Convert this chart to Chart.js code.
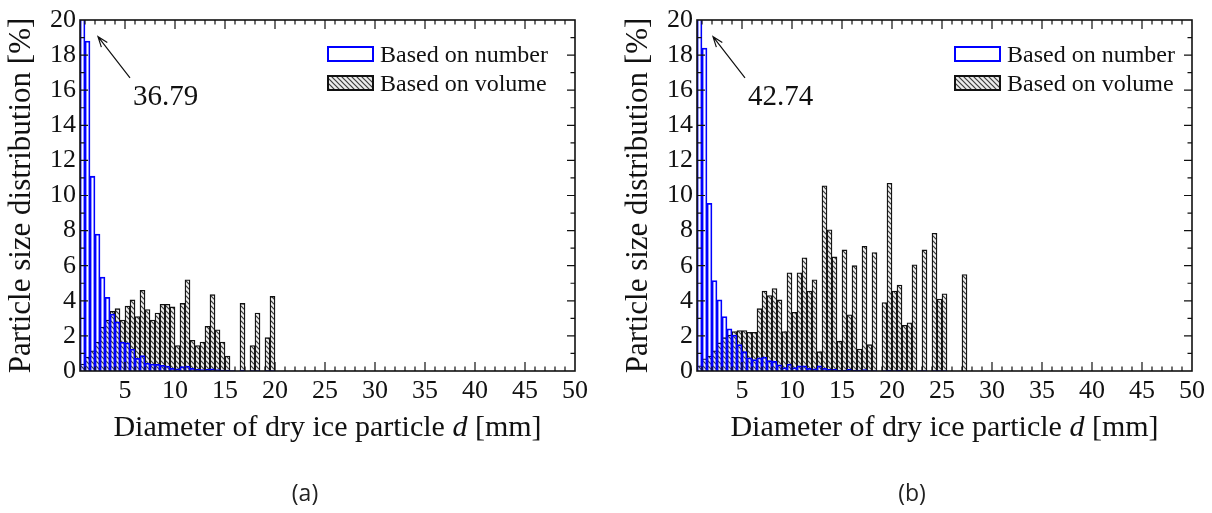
<!DOCTYPE html>
<html>
<head>
<meta charset="utf-8">
<script src="https://cdn.jsdelivr.net/npm/chart.js@4.4.0/dist/chart.umd.min.js"></script>
<style>
body{margin:0;background:#fff;width:1212px;height:513px;position:relative;overflow:hidden}
.panel{position:absolute;top:0;width:600px;height:513px}
.cap{position:absolute;top:476px;width:60px;text-align:center;font:23px "Open Sans",sans-serif;color:#222}
</style>
</head>
<body>
<div class="panel" style="left:0"><canvas id="chartA"></canvas></div>
<div class="panel" style="left:612px"><canvas id="chartB"></canvas></div>
<div class="cap" style="left:275px">(a)</div>
<div class="cap" style="left:882px">(b)</div>
<script>
// histogram bins: 0.5 mm wide, starting at 0.5 mm
const binStart = 0.5;
const binWidth = 0.5;
const seriesNames = ['Based on number', 'Based on volume'];

// (a)
const numberA = [36.79, 18.8, 11.1, 7.8, 5.35, 4.2, 3.25, 2.8, 1.65, 1.6, 1.25, 0.72, 0.88, 0.45, 0.4, 0.38, 0.33, 0.28, 0.15, 0.12,
  0.25, 0.28, 0.15, 0.1, 0.08, 0.1, 0.12, 0.08, 0.05, 0.05, 0.02, 0, 0.05, 0, 0.03, 0.03, 0, 0.02, 0.02];
const volumeA = [0.4, 0.8, 1.15, 1.65, 2.5, 2.9, 3.4, 3.55, 2.9, 3.7, 4.05, 3.1, 4.6, 3.5, 2.9, 3.3, 3.8, 3.8, 3.65, 1.45,
  3.85, 5.2, 1.75, 1.45, 1.65, 2.55, 4.35, 2.35, 1.65, 0.85, 0, 0, 3.85, 0, 1.45, 3.3, 0, 1.9, 4.25];
const peakA = '36.79';

// (b)
const numberB = [42.74, 18.4, 9.55, 5.15, 4.05, 3.1, 2.4, 2.05, 1.5, 1.1, 0.75, 0.65, 0.75, 0.8, 0.6, 0.55, 0.35, 0.2, 0.4, 0.2,
  0.3, 0.3, 0.15, 0.12, 0.3, 0.15, 0.1, 0.1, 0.05, 0.05, 0.1, 0.05, 0.05, 0.08, 0.03, 0.03, 0, 0.02, 0.05, 0.02,
  0.05, 0.03, 0, 0, 0.02, 0.03, 0, 0.02, 0.03, 0.02, 0, 0, 0, 0];
const volumeB = [0.3, 0.7, 0.85, 1.15, 1.6, 1.9, 2.05, 2.25, 2.3, 2.3, 2.2, 2.2, 3.55, 4.55, 4.3, 4.7, 4.05, 2.25, 5.6, 3.35,
  5.6, 6.45, 4.55, 5.2, 1.1, 10.55, 8.05, 6.5, 1.7, 6.9, 3.2, 6.0, 1.25, 7.1, 1.5, 6.75, 0, 3.9, 10.7, 4.55,
  4.9, 2.6, 2.75, 6.05, 0, 6.9, 0, 7.85, 4.1, 4.4, 0, 0, 0, 5.5];
const peakB = '42.74';

const xTicks = [5, 10, 15, 20, 25, 30, 35, 40, 45, 50];
const yTicks = [0, 2, 4, 6, 8, 10, 12, 14, 16, 18, 20];

const serif = '"Liberation Serif", "Times New Roman", serif';

function points(vals) {
  return vals.map((v, i) => ({x: binStart + binWidth * (i + 0.5), y: v === 0 ? null : v}));
}

function hatch() {
  const c = document.createElement('canvas');
  c.width = c.height = 5;
  const g = c.getContext('2d');
  g.fillStyle = '#ececec';
  g.fillRect(0, 0, 5, 5);
  g.strokeStyle = '#3c3c3c';
  g.lineWidth = 1.2;
  g.beginPath();
  g.moveTo(-1, -1); g.lineTo(6, 6);
  g.moveTo(-1, 4); g.lineTo(1, 6);
  g.moveTo(4, -1); g.lineTo(6, 1);
  g.stroke();
  return g.createPattern(c, 'repeat');
}

const decor = {
  id: 'decor',
  afterDatasetsDraw(chart, args, o) {
    const {ctx, chartArea: a, scales: {x, y}} = chart;
    ctx.save();
    // frame + inward ticks on all four sides
    ctx.strokeStyle = '#111';
    ctx.lineWidth = 1.2;
    ctx.beginPath();
    for (let v = 1; v < 50; v++) {
      const px = x.getPixelForValue(v);
      const L = v % 5 === 0 ? 9 : 4.5;
      ctx.moveTo(px, a.bottom); ctx.lineTo(px, a.bottom - L);
      ctx.moveTo(px, a.top); ctx.lineTo(px, a.top + L);
    }
    for (let v = 1; v < 20; v++) {
      const py = y.getPixelForValue(v);
      const L = v % 2 === 0 ? 8 : 4.5;
      ctx.moveTo(a.left, py); ctx.lineTo(a.left + L, py);
      ctx.moveTo(a.right, py); ctx.lineTo(a.right - L, py);
    }
    ctx.stroke();
    ctx.lineWidth = 1.6;
    ctx.strokeRect(a.left, a.top, a.right - a.left, a.bottom - a.top);

    // arrow + clipped peak value
    const tx = x.getPixelForValue(o.arrowFrom[0]), ty = y.getPixelForValue(o.arrowFrom[1]);
    const hx = x.getPixelForValue(o.arrowTo[0]), hy = y.getPixelForValue(o.arrowTo[1]);
    const ang = Math.atan2(hy - ty, hx - tx);
    ctx.lineWidth = 1.2;
    ctx.beginPath();
    ctx.moveTo(tx, ty); ctx.lineTo(hx, hy);
    ctx.moveTo(hx - 11 * Math.cos(ang - 0.35), hy - 11 * Math.sin(ang - 0.35));
    ctx.lineTo(hx, hy);
    ctx.lineTo(hx - 11 * Math.cos(ang + 0.35), hy - 11 * Math.sin(ang + 0.35));
    ctx.stroke();
    ctx.fillStyle = '#111';
    ctx.font = '29px ' + serif;
    ctx.textBaseline = 'middle';
    ctx.textAlign = 'left';
    ctx.fillText(o.peak, x.getPixelForValue(o.textAt[0]), y.getPixelForValue(o.textAt[1]));

    // legend
    const L = o.legend;
    const sets = chart.data.datasets;
    ctx.font = '24px ' + serif;
    sets.forEach((ds, i) => {
      const top = L.top + i * L.gap;
      ctx.fillStyle = ds.backgroundColor;
      ctx.fillRect(L.left, top, 45, 14);
      ctx.strokeStyle = ds.borderColor;
      ctx.lineWidth = 2;
      ctx.strokeRect(L.left, top, 45, 14);
      ctx.fillStyle = '#111';
      ctx.fillText(ds.label, L.left + 52, top + 9);
    });

    // x axis title with italic d
    const parts = [['Diameter of dry ice particle ', ''], ['d', 'italic '], [' [mm]', '']];
    let w = 0;
    parts.forEach(p => { ctx.font = p[1] + '30px ' + serif; w += ctx.measureText(p[0]).width; });
    let cx = (a.left + a.right) / 2 - w / 2;
    parts.forEach(p => {
      ctx.font = p[1] + '30px ' + serif;
      ctx.fillText(p[0], cx, o.titleY);
      cx += ctx.measureText(p[0]).width;
    });
    ctx.restore();
  }
};

function makeChart(id, numberVals, volumeVals, padLeft, padRight, deco) {
  return new Chart(document.getElementById(id), {
    type: 'bar',
    data: {
      datasets: [
        {label: seriesNames[0], data: points(numberVals), backgroundColor: 'rgba(0,0,0,0)',
          borderColor: '#0000ff', borderWidth: 1.1, clip: 0},
        {label: seriesNames[1], data: points(volumeVals), backgroundColor: hatch(),
          borderColor: '#111', borderWidth: 1.3, clip: 0}
      ]
    },
    options: {
      responsive: true,
      maintainAspectRatio: false,
      animation: false,
      events: [],
      layout: {padding: {left: padLeft, right: padRight, top: 20, bottom: 0}},
      datasets: {bar: {barPercentage: 1, categoryPercentage: 1, grouped: false}},
      plugins: {legend: {display: false}, tooltip: {enabled: false}, decor: deco},
      scales: {
        x: {
          type: 'linear', min: 0.5, max: 50, offset: false,
          grid: {display: false, drawTicks: false}, border: {display: false},
          afterBuildTicks: s => { s.ticks = xTicks.map(v => ({value: v})); },
          afterFit: s => { s.height = 142; },
          ticks: {autoSkip: false, maxRotation: 0, padding: 5, color: '#111', font: {family: serif, size: 26}}
        },
        y: {
          min: 0, max: 20,
          grid: {display: false, drawTicks: false}, border: {display: false},
          afterBuildTicks: s => { s.ticks = yTicks.map(v => ({value: v})); },
          afterFit: s => { s.width = 80; },
          ticks: {padding: 4, color: '#111', font: {family: serif, size: 26}},
          title: {display: true, text: 'Particle size distribution [%]', color: '#111',
            font: {family: serif, size: 31}, padding: {top: 3, bottom: 0}}
        }
      }
    },
    plugins: [decor]
  });
}

makeChart('chartA', numberA, volumeA, 0, 25, {
  peak: peakA, arrowFrom: [5.5, 16.7], arrowTo: [2.3, 19.05], textAt: [5.8, 15.6],
  legend: {left: 328, top: 47, gap: 29}, titleY: 428
});
makeChart('chartB', numberB, volumeB, 5, 20, {
  peak: peakB, arrowFrom: [5.3, 16.7], arrowTo: [2.1, 19.05], textAt: [5.6, 15.6],
  legend: {left: 343, top: 47, gap: 29}, titleY: 428
});
</script>
</body>
</html>
